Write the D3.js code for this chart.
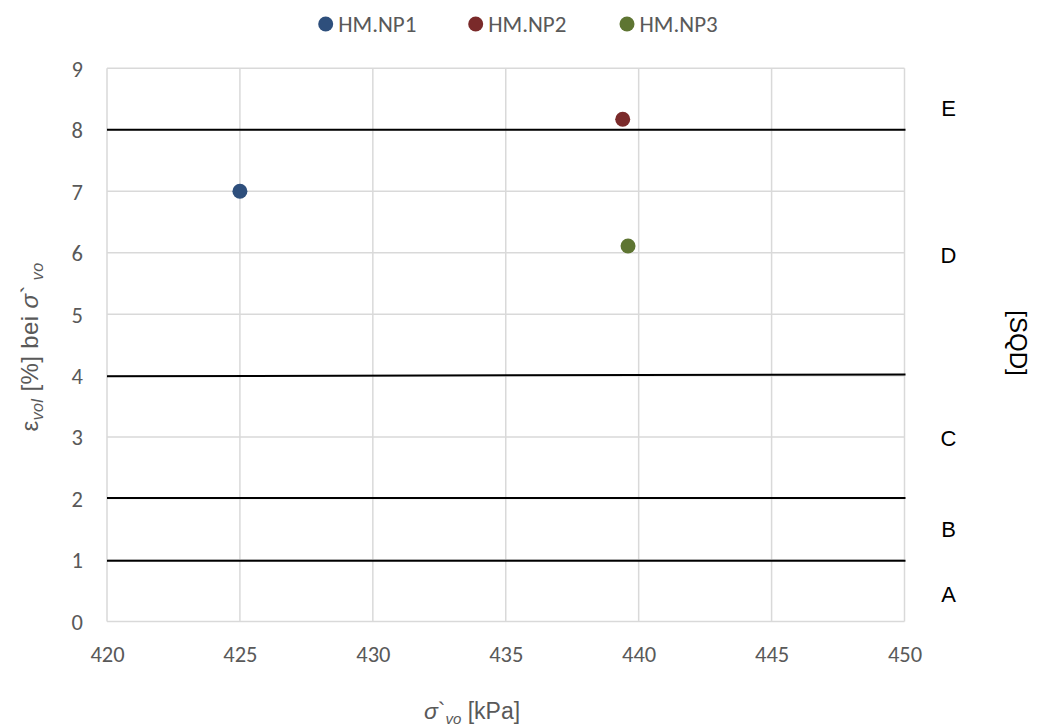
<!DOCTYPE html>
<html>
<head>
<meta charset="utf-8">
<script src="https://cdn.jsdelivr.net/npm/d3@7"></script>
<style>
  html, body { margin: 0; padding: 0; background: #fff; }
  svg { display: block; }
</style>
</head>
<body>
<svg id="chart" width="1038" height="726"></svg>
<script>
// ---- data ----
const seriesNames = ["HM.NP1", "HM.NP2", "HM.NP3"];
const seriesX = [425, 439.4, 439.6];
const seriesY = [7.0, 8.17, 6.11];
const seriesColors = ["#2e4f7c", "#7a2a2a", "#5e7532"];

const xTicks = [420, 425, 430, 435, 440, 445, 450];
const yTicks = [0, 1, 2, 3, 4, 5, 6, 7, 8, 9];

// class boundary lines (start / end value at x = 420 / 450)
const boundaryStart = [8, 3.99, 2.01, 0.99];
const boundaryEnd   = [8, 4.02, 2.01, 0.99];

const classLabels = ["E", "D", "C", "B", "A"];
const classLabelY = [8.35, 5.95, 2.98, 1.5, 0.45];

// ---- layout ----
const W = 1038, H = 726;
const plot = { left: 107, right: 904.5, top: 68.3, bottom: 621.5 };
const tickFont = "Carlito, Lato, 'Open Sans', sans-serif";
const arial = "'Liberation Sans', Arial, sans-serif";
const grey = "#595959";

const svg = d3.select("#chart");

const x = d3.scaleLinear().domain([420, 450]).range([plot.left, plot.right]);
const y = d3.scaleLinear().domain([0, 9]).range([plot.bottom, plot.top]);

// gridlines
const grid = svg.append("g");
grid.selectAll("line.v").data(xTicks).join("line")
  .attr("x1", d => x(d)).attr("x2", d => x(d))
  .attr("y1", plot.top).attr("y2", plot.bottom)
  .attr("stroke", "#d9d9d9").attr("stroke-width", 1.5);
grid.selectAll("line.h").data(yTicks).join("line")
  .attr("x1", plot.left).attr("x2", plot.right)
  .attr("y1", d => y(d)).attr("y2", d => y(d))
  .attr("stroke", "#d9d9d9").attr("stroke-width", 1.5);

// axes (labels only)
const xAxis = d3.axisBottom(x).tickValues(xTicks).tickSize(0).tickPadding(0).tickFormat(d3.format("d"));
const gx = svg.append("g").attr("transform", `translate(0,${plot.bottom})`).call(xAxis);
gx.select(".domain").remove();
gx.selectAll("text")
  .attr("y", 40).attr("dy", 0)
  .attr("fill", grey).style("font-family", tickFont).style("font-size", "22.5px");

const yAxis = d3.axisLeft(y).tickValues(yTicks).tickSize(0).tickPadding(0).tickFormat(d3.format("d"));
const gy = svg.append("g").attr("transform", `translate(${plot.left},0)`).call(yAxis);
gy.select(".domain").remove();
gy.selectAll("text")
  .attr("x", -24).attr("dy", "0.35em")
  .attr("fill", grey).style("font-family", tickFont).style("font-size", "22.5px");

// boundary lines
svg.append("g").selectAll("line").data(boundaryStart).join("line")
  .attr("x1", x(420)).attr("x2", x(450) + 1)
  .attr("y1", d => y(d)).attr("y2", (d, i) => y(boundaryEnd[i]))
  .attr("stroke", "#000").attr("stroke-width", 2);

// class labels
svg.append("g").selectAll("text").data(classLabels).join("text")
  .attr("x", x(450) + 44).attr("y", (d, i) => y(classLabelY[i]))
  .attr("dy", "0.35em").attr("text-anchor", "middle")
  .style("font-family", arial).style("font-size", "22px").attr("fill", "#000")
  .text(d => d);

// points
svg.append("g").selectAll("circle").data(seriesNames).join("circle")
  .attr("cx", (d, i) => x(seriesX[i])).attr("cy", (d, i) => y(seriesY[i]))
  .attr("r", 7.5).attr("fill", (d, i) => seriesColors[i]);

// legend
const legendX = [325.7, 475.7, 627];
const lg = svg.append("g").selectAll("g").data(seriesNames).join("g")
  .attr("transform", (d, i) => `translate(${legendX[i]},24)`);
lg.append("circle").attr("r", 7.5).attr("fill", (d, i) => seriesColors[i]);
lg.append("text").attr("x", 12.5).attr("y", 8)
  .style("font-family", tickFont).style("font-size", "23px").attr("fill", grey)
  .text(d => d);

// x title
const xt = svg.append("text").attr("x", 472).attr("y", 719).attr("text-anchor", "middle")
  .style("font-family", arial).style("font-size", "23px").attr("fill", grey);
xt.append("tspan").style("font-style", "italic").text("σ");
xt.append("tspan").text("`");
xt.append("tspan").attr("dy", 5).style("font-style", "italic").style("font-size", "15px").text("vo");
xt.append("tspan").attr("dy", -5).text(" [kPa]");

// y title
const yt = svg.append("text").attr("transform", `translate(38,347) rotate(-90)`)
  .attr("text-anchor", "middle")
  .style("font-family", arial).style("font-size", "24px").style("letter-spacing", "0.4px").attr("fill", grey);
yt.append("tspan").text("ε");
yt.append("tspan").attr("dy", 5).style("font-style", "italic").style("font-size", "16px").text("vol");
yt.append("tspan").attr("dy", -5).text(" [%] bei ");
yt.append("tspan").style("font-style", "italic").text("σ");
yt.append("tspan").text("`");
yt.append("tspan").attr("dy", 5).style("font-style", "italic").style("font-size", "16px").text(" vo");

// secondary title
svg.append("text").attr("transform", `translate(1010,343) rotate(90)`)
  .attr("text-anchor", "middle")
  .style("font-family", arial).style("font-size", "24px").attr("fill", "#000")
  .text("[SQD]");
</script>
</body>
</html>
